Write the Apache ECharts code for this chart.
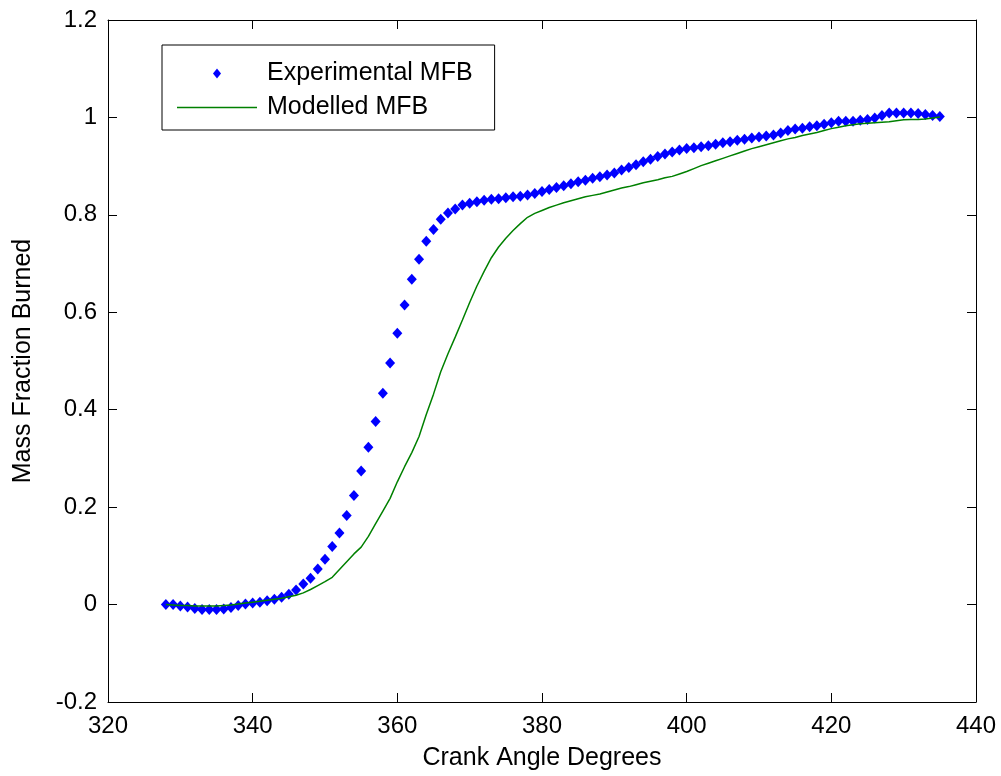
<!DOCTYPE html>
<html>
<head>
<meta charset="utf-8">
<script src="https://cdn.jsdelivr.net/npm/echarts@6/dist/echarts.min.js"></script>
<style>
html,body{margin:0;padding:0;background:#fff;}
#chart{width:1001px;height:776px;}
</style>
</head>
<body>
<div id="chart"></div>
<script>
var crankAngle = [
  328,329,330,331,332,333,334,335,336,337,
  338,339,340,341,342,343,344,345,346,347,
  348,349,350,351,352,353,354,355,356,357,
  358,359,360,361,362,363,364,365,366,367,
  368,369,370,371,372,373,374,375,376,377,
  378,379,380,381,382,383,384,385,386,387,
  388,389,390,391,392,393,394,395,396,397,
  398,399,400,401,402,403,404,405,406,407,
  408,409,410,411,412,413,414,415,416,417,
  418,419,420,421,422,423,424,425,426,427,
  428,429,430,431,432,433,434,435
];
var experimentalMFB = [
  0.000, 0.000, -0.003, -0.005, -0.008, -0.010, -0.010, -0.010, -0.009, -0.006,
  -0.002, 0.001, 0.003, 0.005, 0.008, 0.011, 0.015, 0.021, 0.030, 0.042,
  0.054, 0.073, 0.093, 0.119, 0.147, 0.183, 0.224, 0.274, 0.323, 0.376,
  0.434, 0.496, 0.557, 0.615, 0.668, 0.709, 0.746, 0.770, 0.791, 0.804,
  0.812, 0.820, 0.824, 0.827, 0.830, 0.832, 0.833, 0.835, 0.837, 0.838,
  0.841, 0.844, 0.848, 0.852, 0.856, 0.860, 0.864, 0.868, 0.871, 0.875,
  0.878, 0.882, 0.886, 0.892, 0.897, 0.903, 0.909, 0.914, 0.920, 0.925,
  0.929, 0.933, 0.936, 0.938, 0.940, 0.942, 0.945, 0.948, 0.950, 0.953,
  0.955, 0.958, 0.960, 0.962, 0.964, 0.968, 0.973, 0.976, 0.978, 0.981,
  0.983, 0.986, 0.989, 0.992, 0.992, 0.992, 0.994, 0.996, 0.999, 1.004,
  1.009, 1.009, 1.009, 1.009, 1.008, 1.006, 1.004, 1.002
];
var modelledMFB = [
  0.000, -0.001, -0.002, -0.002, -0.003, -0.003, -0.003, -0.003, -0.002, -0.001,
  0.001, 0.003, 0.005, 0.007, 0.009, 0.011, 0.013, 0.016, 0.019, 0.024,
  0.031, 0.039, 0.047, 0.056, 0.072, 0.088, 0.104, 0.118, 0.140, 0.166,
  0.192, 0.218, 0.252, 0.283, 0.312, 0.345, 0.390, 0.432, 0.478, 0.515,
  0.549, 0.584, 0.620, 0.654, 0.684, 0.712, 0.734, 0.752, 0.768, 0.782,
  0.795, 0.803, 0.809, 0.815, 0.820, 0.825, 0.829, 0.833, 0.837, 0.840,
  0.843, 0.847, 0.851, 0.855, 0.858, 0.862, 0.866, 0.869, 0.872, 0.876,
  0.879, 0.884, 0.889, 0.895, 0.901, 0.906, 0.911, 0.916, 0.921, 0.926,
  0.931, 0.936, 0.940, 0.944, 0.948, 0.952, 0.956, 0.959, 0.963, 0.966,
  0.969, 0.973, 0.977, 0.980, 0.983, 0.985, 0.987, 0.988, 0.989, 0.990,
  0.991, 0.993, 0.995, 0.996, 0.996, 0.997, 0.999, 1.001
];
var xTicks = [320, 340, 360, 380, 400, 420, 440];
var yTicks = [-0.2, 0, 0.2, 0.4, 0.6, 0.8, 1, 1.2];
var seriesNames = ['Experimental MFB', 'Modelled MFB'];
var xTitle = 'Crank Angle Degrees';
var yTitle = 'Mass Fraction Burned';

var FONT = '"Liberation Sans", Arial, sans-serif';
var expData = crankAngle.map(function (a, i) { return [a, experimentalMFB[i]]; });
var modData = crankAngle.map(function (a, i) { return [a, modelledMFB[i]]; });

function fmt(v) { return String(parseFloat(Number(v).toFixed(1))); }

var axisCommon = {
  axisLine: { show: true, onZero: false, lineStyle: { color: '#000', width: 1 } },
  axisTick: { show: true, inside: true, length: 9, lineStyle: { color: '#000', width: 1 } },
  splitLine: { show: false }
};

var chart = echarts.init(document.getElementById('chart'), null, { renderer: 'canvas' });
chart.setOption({
  backgroundColor: '#fff',
  animation: false,
  grid: { left: 108, right: 25, top: 20, bottom: 72, containLabel: false },
  legend: {
    orient: 'vertical',
    left: 162,
    top: 45,
    padding: [16, 22, 10, 15],
    itemWidth: 80,
    itemHeight: 10,
    itemGap: 9,
    symbolKeepAspect: true,
    backgroundColor: '#fff',
    borderColor: '#000',
    borderWidth: 1,
    borderRadius: 0,
    textStyle: { fontFamily: FONT, fontSize: 25, color: '#000', padding: [0, 0, 0, 5] },
    data: [
      { name: seriesNames[0], icon: 'path://M4,0 L8,5 L4,10 L0,5 Z', itemStyle: { color: '#0000ff', opacity: 1 } },
      { name: seriesNames[1], icon: 'path://M0,0 L80,0 L80,1.6 L0,1.6 Z', itemStyle: { color: '#008000', opacity: 1 } }
    ]
  },
  xAxis: [
    Object.assign({
      type: 'value', position: 'bottom',
      min: xTicks[0], max: xTicks[xTicks.length - 1], interval: xTicks[1] - xTicks[0],
      name: xTitle, nameLocation: 'middle', nameGap: 44,
      nameTextStyle: { fontFamily: FONT, fontSize: 25, color: '#000' },
      axisLabel: { fontFamily: FONT, fontSize: 24, color: '#000', margin: 12, formatter: fmt }
    }, axisCommon),
    Object.assign({
      type: 'value', position: 'top',
      min: xTicks[0], max: xTicks[xTicks.length - 1], interval: xTicks[1] - xTicks[0],
      axisLabel: { show: false }
    }, axisCommon)
  ],
  yAxis: [
    Object.assign({
      type: 'value', position: 'left',
      min: yTicks[0], max: yTicks[yTicks.length - 1], interval: 0.2,
      name: yTitle, nameLocation: 'middle', nameGap: 72, nameRotate: 90,
      nameTextStyle: { fontFamily: FONT, fontSize: 25, color: '#000' },
      axisLabel: { fontFamily: FONT, fontSize: 24, color: '#000', margin: 11, formatter: fmt }
    }, axisCommon),
    Object.assign({
      type: 'value', position: 'right',
      min: yTicks[0], max: yTicks[yTicks.length - 1], interval: 0.2,
      axisLabel: { show: false }
    }, axisCommon)
  ],
  series: [
    {
      name: seriesNames[0],
      type: 'scatter',
      xAxisIndex: 0, yAxisIndex: 0,
      symbol: 'diamond',
      symbolSize: [10, 11],
      itemStyle: { color: '#0000ff', opacity: 1 },
      data: expData,
      z: 2
    },
    {
      name: seriesNames[1],
      type: 'line',
      xAxisIndex: 0, yAxisIndex: 0,
      showSymbol: false,
      symbol: 'none',
      lineStyle: { color: '#008000', width: 1.5 },
      itemStyle: { color: '#008000' },
      data: modData,
      z: 3
    }
  ]
});
</script>
</body>
</html>
